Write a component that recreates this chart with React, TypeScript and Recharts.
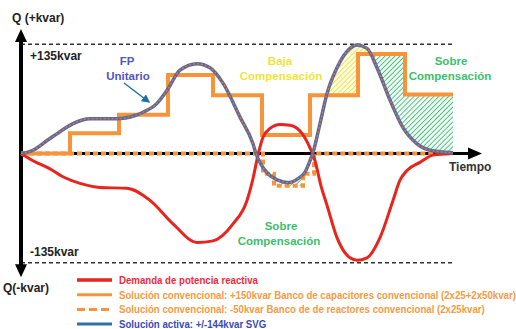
import { ComposedChart, Line, Area, XAxis, YAxis, ReferenceLine, ReferenceDot } from "recharts";

// tiempo (t) en unidades arbitrarias, potencia reactiva (q) en kvar
const demanda = [
  { t: 0, q: 0 }, { t: 12, q: -9 }, { t: 29, q: -19 }, { t: 44, q: -30 }, { t: 59, q: -37 },
  { t: 79, q: -42 }, { t: 106, q: -43 }, { t: 129, q: -58 }, { t: 152, q: -87 }, { t: 176, q: -110 },
  { t: 192, q: -108 }, { t: 212, q: -87 }, { t: 226, q: -58 }, { t: 232, q: -31 }, { t: 237, q: -2 },
  { t: 242, q: 20 }, { t: 249, q: 31 }, { t: 259, q: 36 }, { t: 269, q: 35 }, { t: 281, q: 25 },
  { t: 289, q: 7 }, { t: 294, q: -9 }, { t: 300, q: -40 }, { t: 306, q: -64 }, { t: 316, q: -104 },
  { t: 329, q: -129 }, { t: 336, q: -132 }, { t: 346, q: -129 }, { t: 359, q: -104 }, { t: 372, q: -58 },
  { t: 379, q: -33 }, { t: 386, q: -21 }, { t: 399, q: -11 }, { t: 412, q: -2 }, { t: 432, q: 0 },
];

const activa = [
  { t: 0, q: 0 }, { t: 12, q: 4 }, { t: 26, q: 16 }, { t: 39, q: 27 }, { t: 52, q: 37 },
  { t: 69, q: 43 }, { t: 96, q: 43 }, { t: 114, q: 47 }, { t: 122, q: 51 }, { t: 136, q: 62 },
  { t: 146, q: 78 }, { t: 159, q: 103 }, { t: 176, q: 111 }, { t: 189, q: 106 }, { t: 202, q: 87 },
  { t: 219, q: 45 }, { t: 232, q: 12 }, { t: 235, q: 0 }, { t: 247, q: -25 }, { t: 257, q: -33 },
  { t: 267, q: -36 }, { t: 277, q: -31 }, { t: 284, q: -23 }, { t: 289, q: -9 }, { t: 292, q: 1 },
  { t: 299, q: 37 }, { t: 306, q: 74 }, { t: 316, q: 106 }, { t: 329, q: 130 }, { t: 336, q: 134 },
  { t: 346, q: 130 }, { t: 356, q: 106 }, { t: 369, q: 66 }, { t: 382, q: 32 }, { t: 396, q: 12 },
  { t: 409, q: 4 }, { t: 432, q: 1 },
];

const capacitores = [
  { t: 0, q: 0 }, { t: 49, q: 25 }, { t: 98, q: 48 }, { t: 147, q: 97 }, { t: 192, q: 72 },
  { t: 241, q: 23 }, { t: 289, q: 72 }, { t: 337, q: 123 }, { t: 384, q: 73 }, { t: 432, q: 73 },
];

const reactores = [
  { t: 0, q: 0 }, { t: 242, q: -25 }, { t: 253, q: -40 }, { t: 282, q: -25 }, { t: 293, q: 0 }, { t: 432, q: 0 },
];

// eje de tiempo (q = 0)
const ejeTiempo = [{ t: 0, q: 0 }, { t: 449, q: 0 }];

// zonas rayadas [min, max]
const bajaComp = [
  { t: 305, r: [72, 72] }, { t: 306, r: [72, 74] }, { t: 316, r: [72, 106] }, { t: 329, r: [72, 130] },
  { t: 336, r: [72, 134] }, { t: 337, r: [72, 134] }, { t: 337, r: [123, 134] }, { t: 346, r: [123, 130] },
  { t: 349, r: [123, 123] },
];

const sobreComp = [
  { t: 349, r: [123, 123] }, { t: 356, r: [106, 123] }, { t: 369, r: [66, 123] }, { t: 382, r: [32, 123] },
  { t: 384, r: [29, 123] }, { t: 384, r: [29, 73] }, { t: 396, r: [12, 73] }, { t: 409, r: [4, 73] },
  { t: 432, r: [1, 73] },
];

const sobreCompNeg = [
  { t: 258, r: [-40, -34] }, { t: 267, r: [-40, -36] }, { t: 277, r: [-40, -31] }, { t: 280, r: [-40, -28] },
];

const legendLabels = [
  "Demanda de potencia reactiva",
  "Solución convencional: +150kvar Banco de capacitores convencional (2x25+2x50kvar)",
  "Solución convencional: -50kvar Banco de de reactores convencional (2x25kvar)",
  "Solución activa: +/-144kvar SVG",
];

const RED = "#e8251c";
const ORANGE = "#f7943a";
const BLUE = "#5b6a9c";
const W = 516;
const H = 329;
const SANS = "'Liberation Sans', Arial, sans-serif";

const arrowUp = (p: any) => (
  <polygon points={`${p.cx},${p.cy} ${p.cx - 6},${p.cy + 13} ${p.cx + 6},${p.cy + 13}`} fill="#000" />
);
const arrowDown = (p: any) => (
  <polygon points={`${p.cx},${p.cy} ${p.cx - 6},${p.cy - 13} ${p.cx + 6},${p.cy - 13}`} fill="#000" />
);
const arrowRight = (p: any) => (
  <polygon points={`${p.cx},${p.cy} ${p.cx - 14},${p.cy - 6} ${p.cx - 14},${p.cy + 6}`} fill="#000" />
);

export default function App() {
  return (
    <div style={{ position: "absolute", left: 0, top: 0, width: W, height: H, background: "#fff", overflow: "hidden" }}>
      <ComposedChart width={W} height={H} margin={{ top: 16, right: 25, bottom: 38, left: 21 }}>
        <defs>
          <pattern id="rayaAmarilla" width="3.5" height="3.5" patternUnits="userSpaceOnUse" patternTransform="rotate(45)">
            <rect width="3.5" height="3.5" fill="#fdfbe0" />
            <line x1="0" y1="0" x2="0" y2="3.5" stroke="#e8e030" strokeWidth="1.6" />
          </pattern>
          <pattern id="rayaVerde" width="3.5" height="3.5" patternUnits="userSpaceOnUse" patternTransform="rotate(45)">
            <rect width="3.5" height="3.5" fill="#eef9f2" />
            <line x1="0" y1="0" x2="0" y2="3.5" stroke="#3cb878" strokeWidth="1.6" />
          </pattern>
        </defs>
        <XAxis type="number" dataKey="t" domain={[0, 470]} hide />
        <YAxis type="number" domain={[-170, 170]} hide />

        <Area data={bajaComp} dataKey="r" type="linear" stroke="none" fill="url(#rayaAmarilla)" fillOpacity={1} isAnimationActive={false} />
        <Area data={sobreComp} dataKey="r" type="linear" stroke="none" fill="url(#rayaVerde)" fillOpacity={1} isAnimationActive={false} />
        <Area data={sobreCompNeg} dataKey="r" type="linear" stroke="none" fill="url(#rayaVerde)" fillOpacity={1} isAnimationActive={false} />

        <ReferenceLine segment={[{ x: 0, y: 135 }, { x: 432, y: 135 }]} stroke="#333" strokeWidth={1.4} strokeDasharray="4 3" />
        <ReferenceLine segment={[{ x: 0, y: -135 }, { x: 432, y: -135 }]} stroke="#333" strokeWidth={1.4} strokeDasharray="4 3" />
        <ReferenceLine segment={[{ x: 0, y: -140 }, { x: 0, y: 140 }]} stroke="#000" strokeWidth={4} />
        <ReferenceDot x={0} y={154} shape={arrowUp} ifOverflow="visible" />
        <ReferenceDot x={0} y={-153} shape={arrowDown} ifOverflow="visible" />
        <ReferenceDot x={461} y={0} shape={arrowRight} ifOverflow="visible" />

        <Line data={ejeTiempo} dataKey="q" type="linear" stroke="#000" strokeWidth={3} dot={false} isAnimationActive={false} />
        <Line data={capacitores} dataKey="q" type="stepAfter" stroke={ORANGE} strokeWidth={4} dot={false} isAnimationActive={false} />
        <Line data={reactores} dataKey="q" type="stepAfter" stroke={ORANGE} strokeWidth={4} strokeDasharray="5 3" dot={false} isAnimationActive={false} />
        <Line data={demanda} dataKey="q" type="monotone" stroke={RED} strokeWidth={3} dot={false} isAnimationActive={false} />
        <Line data={activa} dataKey="q" type="monotone" stroke={BLUE} strokeWidth={3.5} dot={false} isAnimationActive={false} />
        <Line data={activa} dataKey="q" type="monotone" stroke="#e8763a" strokeWidth={1.2} strokeDasharray="2 2" dot={false} isAnimationActive={false} />
      </ComposedChart>

      <svg width={W} height={H} style={{ position: "absolute", left: 0, top: 0, pointerEvents: "none" }}>
        <defs>
          <marker id="punta" markerWidth="6" markerHeight="6" refX="5" refY="3" orient="auto">
            <path d="M0,0 L6,3 L0,6 z" fill="#1f6fa5" />
          </marker>
        </defs>
        <g fontFamily={SANS} fontWeight="bold" fontSize={12}>
          <text x={12} y={22} fill="#222">Q (+kvar)</text>
          <text x={30} y={60} fill="#222">+135kvar</text>
          <text x={30} y={256} fill="#222">-135kvar</text>
          <text x={3} y={292} fill="#222">Q(-kvar)</text>
          <text x={449} y={171} fill="#333">Tiempo</text>
          <g textAnchor="middle" fontSize={11.5}>
            <text x={127} y={65} fill="#5555c0">FP</text>
            <text x={128} y={80} fill="#5555c0">Unitario</text>
            <text x={280} y={65} fill="#efe33a">Baja</text>
            <text x={281} y={80} fill="#efe33a">Compensación</text>
            <text x={451} y={65} fill="#3cbf6a">Sobre</text>
            <text x={450} y={80} fill="#3cbf6a">Compensación</text>
            <text x={281} y={230} fill="#3cbf6a">Sobre</text>
            <text x={279} y={245} fill="#3cbf6a">Compensación</text>
          </g>
        </g>
        <line x1={124} y1={83} x2={149} y2={102} stroke="#1f6fa5" strokeWidth={1.4} markerEnd="url(#punta)" />

        <g fontFamily={SANS} fontWeight="bold" fontSize={10.5}>
          {legendLabels.map((label, i) => {
            const y = 280 + i * 14.7;
            const color = i === 0 ? RED : i === 3 ? "#2f6ea8" : ORANGE;
            const textColor = i === 0 ? "#ee2b3b" : i === 3 ? "#3b4bb5" : "#f59a45";
            return (
              <g key={label}>
                <line x1={77} y1={y} x2={112} y2={y} stroke={color} strokeWidth={i === 0 ? 3.5 : 3} strokeDasharray={i === 2 ? "8 4" : undefined} />
                <text transform={`translate(119 ${y + 3.8}) scale(0.92 1)`} fill={textColor}>
                  {label}
                </text>
              </g>
            );
          })}
        </g>
      </svg>
    </div>
  );
}
